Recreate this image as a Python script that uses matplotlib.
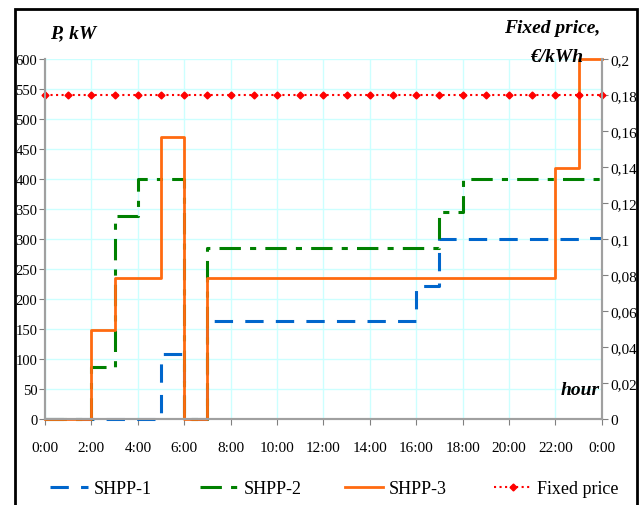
import numpy as np
import matplotlib.pyplot as plt
from matplotlib.patches import Rectangle

# hourly step values (value holds from hour h to h+1)
hours = np.arange(0, 25)
shpp1 = [0, 0, 0, 0, 0, 108, 0, 163, 163, 163, 163, 163, 163, 163, 163, 163,
         222, 300, 300, 300, 300, 300, 300, 302]
shpp2 = [0, 0, 87, 338, 400, 400, 0, 285, 285, 285, 285, 285, 285, 285, 285, 285,
         285, 345, 400, 400, 400, 400, 400, 400]
shpp3 = [0, 0, 148, 235, 235, 470, 0, 235, 235, 235, 235, 235, 235, 235, 235, 235,
         235, 235, 235, 235, 235, 235, 418, 600]
price = [0.18] * 25
xlabels = ["0:00", "2:00", "4:00", "6:00", "8:00", "10:00", "12:00", "14:00",
           "16:00", "18:00", "20:00", "22:00", "0:00"]
price_ticks = ["0", "0,02", "0,04", "0,06", "0,08", "0,1", "0,12",
               "0,14", "0,16", "0,18", "0,2"]

plt.rcParams['font.family'] = 'Liberation Serif'

fig = plt.figure(figsize=(6.43, 5.06), dpi=100)
ax = fig.add_axes([0.070, 0.170, 0.866, 0.711])
ax2 = ax.twinx()

def ext(v):
    return list(v) + [v[-1]]

l1, = ax.step(hours, ext(shpp1), where='post', color='#0066CC', lw=2.2,
              dashes=(6, 4), clip_on=False)
l2, = ax.step(hours, ext(shpp2), where='post', color='#008000', lw=2.2,
              dashes=(7, 3, 2, 3), clip_on=False)
l3, = ax.step(hours, ext(shpp3), where='post', color='#FF6A10', lw=2,
              clip_on=False)
l4, = ax2.plot(hours, price, color='#FF0000', lw=1.5, ls=':', marker='D',
               markersize=3.5, clip_on=False)

ax.set_xlim(0, 24)
ax.set_ylim(0, 600)
ax2.set_ylim(0, 0.2)
ax.set_xticks(np.arange(0, 25, 2))
ax.set_xticklabels(xlabels)
ax.set_yticks(np.arange(0, 601, 50))
ax2.set_yticks(np.arange(0, 0.201, 0.02))
ax2.set_yticklabels(price_ticks)

ax.grid(True, color='#CCFFFF', lw=1)
ax.set_axisbelow(True)
for a in (ax, ax2):
    a.spines['top'].set_visible(False)
    for s in ('left', 'right', 'bottom'):
        a.spines[s].set_color('#A0A0A0')
        a.spines[s].set_linewidth(1.5)
ax.tick_params(axis='both', colors='#808080', labelcolor='black', labelsize=11,
               length=4, pad=2)
ax.tick_params(axis='y', labelsize=10.5, pad=1.5)
ax.tick_params(axis='x', pad=12)
ax2.tick_params(axis='y', colors='#808080', labelcolor='black', labelsize=11,
                length=4, pad=2)

fig.text(0.078, 0.925, "P, kW", fontsize=14, fontweight='bold', fontstyle='italic')
fig.text(0.934, 0.935, "Fixed price,", fontsize=14, fontweight='bold',
         fontstyle='italic', ha='right')
fig.text(0.907, 0.877, "€/kWh", fontsize=14, fontweight='bold',
         fontstyle='italic', ha='right')
ax.text(23.9, 35, "hour", fontsize=14, fontweight='bold', fontstyle='italic',
        ha='right', va='bottom')

# legend entries placed individually across the bottom
for h, lab, xpx in zip([l1, l2, l3, l4],
                       ["SHPP-1", "SHPP-2", "SHPP-3", "Fixed price"],
                       [50, 200, 345, 494]):
    fig.legend([h], [lab], loc='center left',
               bbox_to_anchor=(xpx / 643, 1 - 490 / 506), frameon=False,
               fontsize=13, handlelength=2.1, handletextpad=0.3,
               borderpad=0, borderaxespad=0)

fig.add_artist(Rectangle((15 / 643, -0.05), 622 / 643, 1.05 - 10 / 506,
                         transform=fig.transFigure, fill=False, lw=2,
                         edgecolor='black'))

fig.savefig("out.png", dpi=100)
